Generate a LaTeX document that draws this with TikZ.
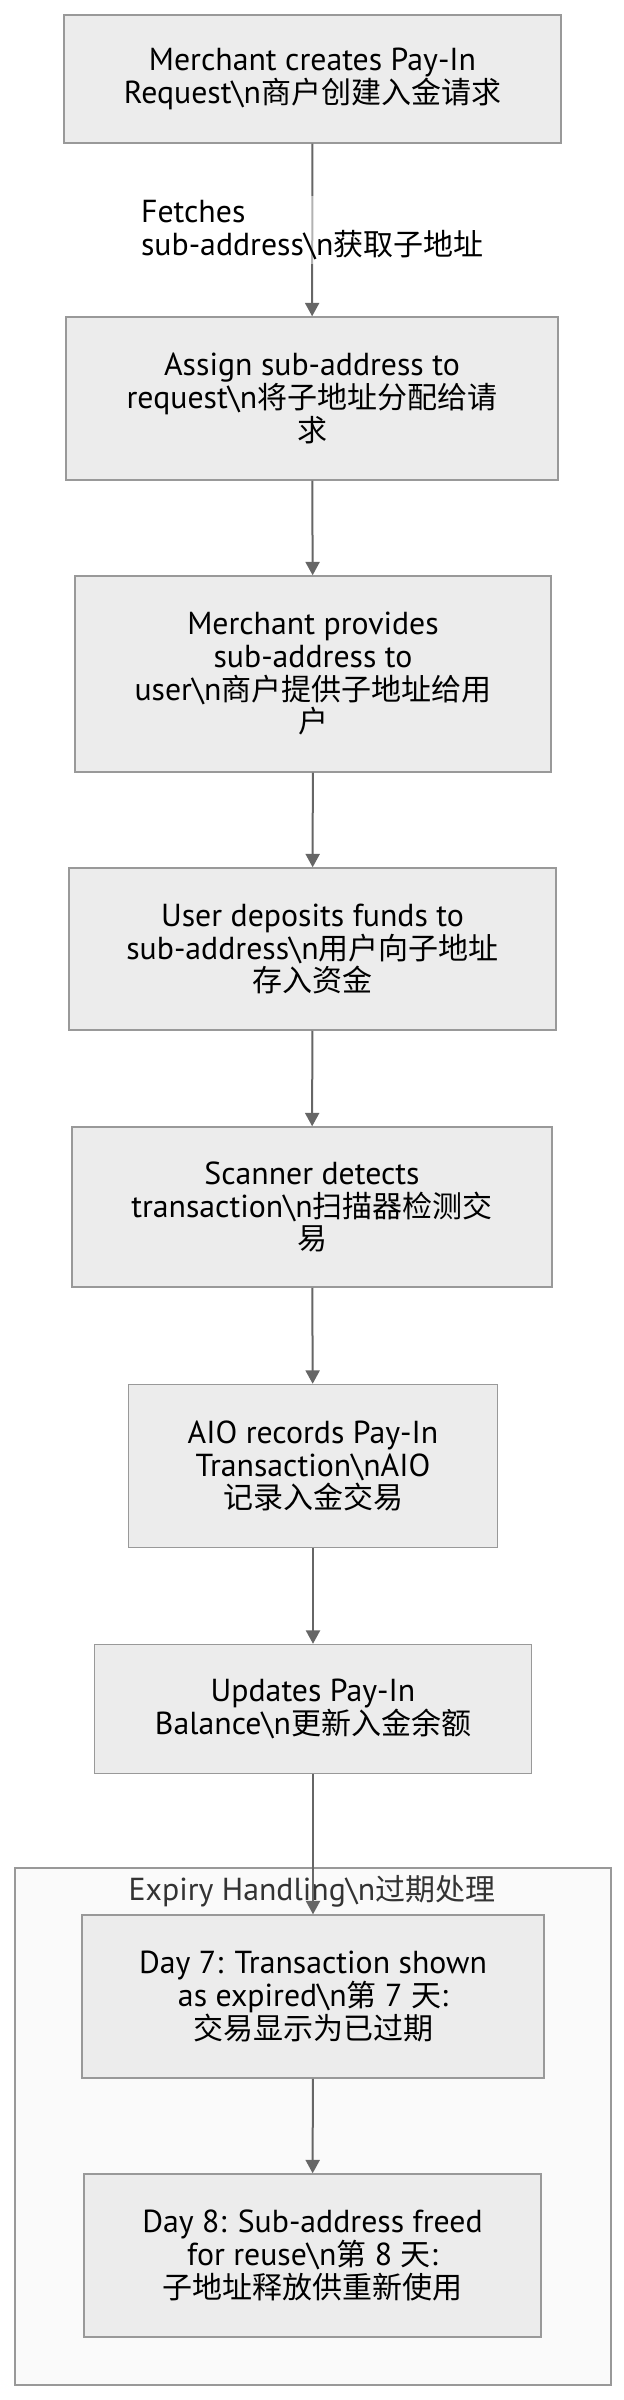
\documentclass[tikz,border=0pt]{standalone}
\usepackage{fontspec}
\setmainfont[Scale=1.06]{PT Sans}
\newfontfamily\cjk{Noto Sans CJK SC}
\usetikzlibrary{arrows.meta}

\definecolor{boxfill}{HTML}{ECECEC}
\definecolor{boxline}{HTML}{999999}
\definecolor{flowline}{HTML}{666666}
\definecolor{groupfill}{HTML}{FAFAFA}
\definecolor{groupline}{HTML}{999999}
\definecolor{titletext}{HTML}{333333}

\newcommand{\bsn}{\textbackslash n}

\tikzset{every picture/.style={line width=0.75pt}}
\tikzset{
  procbox/.style={draw=boxline, fill=boxfill, line width=1.1pt, align=center,
    inner sep=0pt, font=\fontsize{22.5}{24.5}\selectfont},
  flowarrow/.style={draw=flowline, line width=1.5pt,
    -{Triangle[length=10pt,width=10.5pt]}},
  edgelabel/.style={fill=white, fill opacity=0.5, text opacity=1, align=left,
    inner xsep=0pt, inner ysep=3.5pt, font=\fontsize{22.5}{24.5}\selectfont},
  grouptitle/.style={text=titletext, inner sep=0pt, font=\fontsize{22.5}{24.5}\selectfont}
}

\begin{document}
\begin{tikzpicture}[x=0.75pt,y=0.75pt,yscale=-1,xscale=1]
\useasboundingbox (0,0) rectangle (624,2400);

%Shape: Expiry group [id:grp]
\draw [draw=groupline, fill=groupfill, line width=1.1pt] (15,1868) rectangle (611,2385);
% Text Node
\node [grouptitle] (grp) at (312,1891) {Expiry Handling\bsn{\cjk 过期处理}};

% Steps
\node [procbox, minimum width=372.75pt, minimum height=96pt] (create) at (312.5,79)
  {Merchant creates Pay-In\\Request\bsn{\cjk 商户创建入金请求}};
\node [procbox, minimum width=369pt, minimum height=122.25pt] (assign) at (312,398.5)
  {Assign sub-address to\\request\bsn{\cjk 将子地址分配给请}\\{\cjk 求}};
\node [procbox, minimum width=357pt, minimum height=147pt] (provide) at (313,674)
  {Merchant provides\\sub-address to\\user\bsn{\cjk 商户提供子地址给用}\\{\cjk 户}};
\node [procbox, minimum width=365.25pt, minimum height=121.5pt] (deposit) at (312.5,949)
  {User deposits funds to\\sub-address\bsn{\cjk 用户向子地址}\\{\cjk 存入资金}};
\node [procbox, minimum width=360pt, minimum height=120pt] (scan) at (312,1207)
  {Scanner detects\\transaction\bsn{\cjk 扫描器检测交}\\{\cjk 易}};
\node [procbox, minimum width=276.75pt, minimum height=122.25pt] (record) at (313,1466)
  {AIO records Pay-In\\Transaction\bsn AIO\\{\cjk 记录入金交易}};
\node [procbox, minimum width=327.75pt, minimum height=96.75pt] (balance) at (313,1709)
  {Updates Pay-In\\Balance\bsn{\cjk 更新入金余额}};
\node [procbox, minimum width=346.5pt, minimum height=122.25pt] (day7) at (313,1996.5)
  {Day 7: Transaction shown\\as expired\bsn{\cjk 第} 7 {\cjk 天}:\\{\cjk 交易显示为已过期}};
\node [procbox, minimum width=342.75pt, minimum height=122.25pt] (day8) at (312.5,2255.5)
  {Day 8: Sub-address freed\\for reuse\bsn{\cjk 第} 8 {\cjk 天}:\\{\cjk 子地址释放供重新使用}};

% Connectors
\draw [flowarrow] (create) -- node [edgelabel] (fetch) {Fetches\\sub-address\bsn{\cjk 获取子地址}} (assign);
\draw [flowarrow] (assign) -- (provide);
\draw [flowarrow] (provide) -- (deposit);
\draw [flowarrow] (deposit) -- (scan);
\draw [flowarrow] (scan) -- (record);
\draw [flowarrow] (record) -- (balance);
\draw [flowarrow] (balance) -- (day7);
\draw [flowarrow] (day7) -- (day8);

\end{tikzpicture}
\end{document}
